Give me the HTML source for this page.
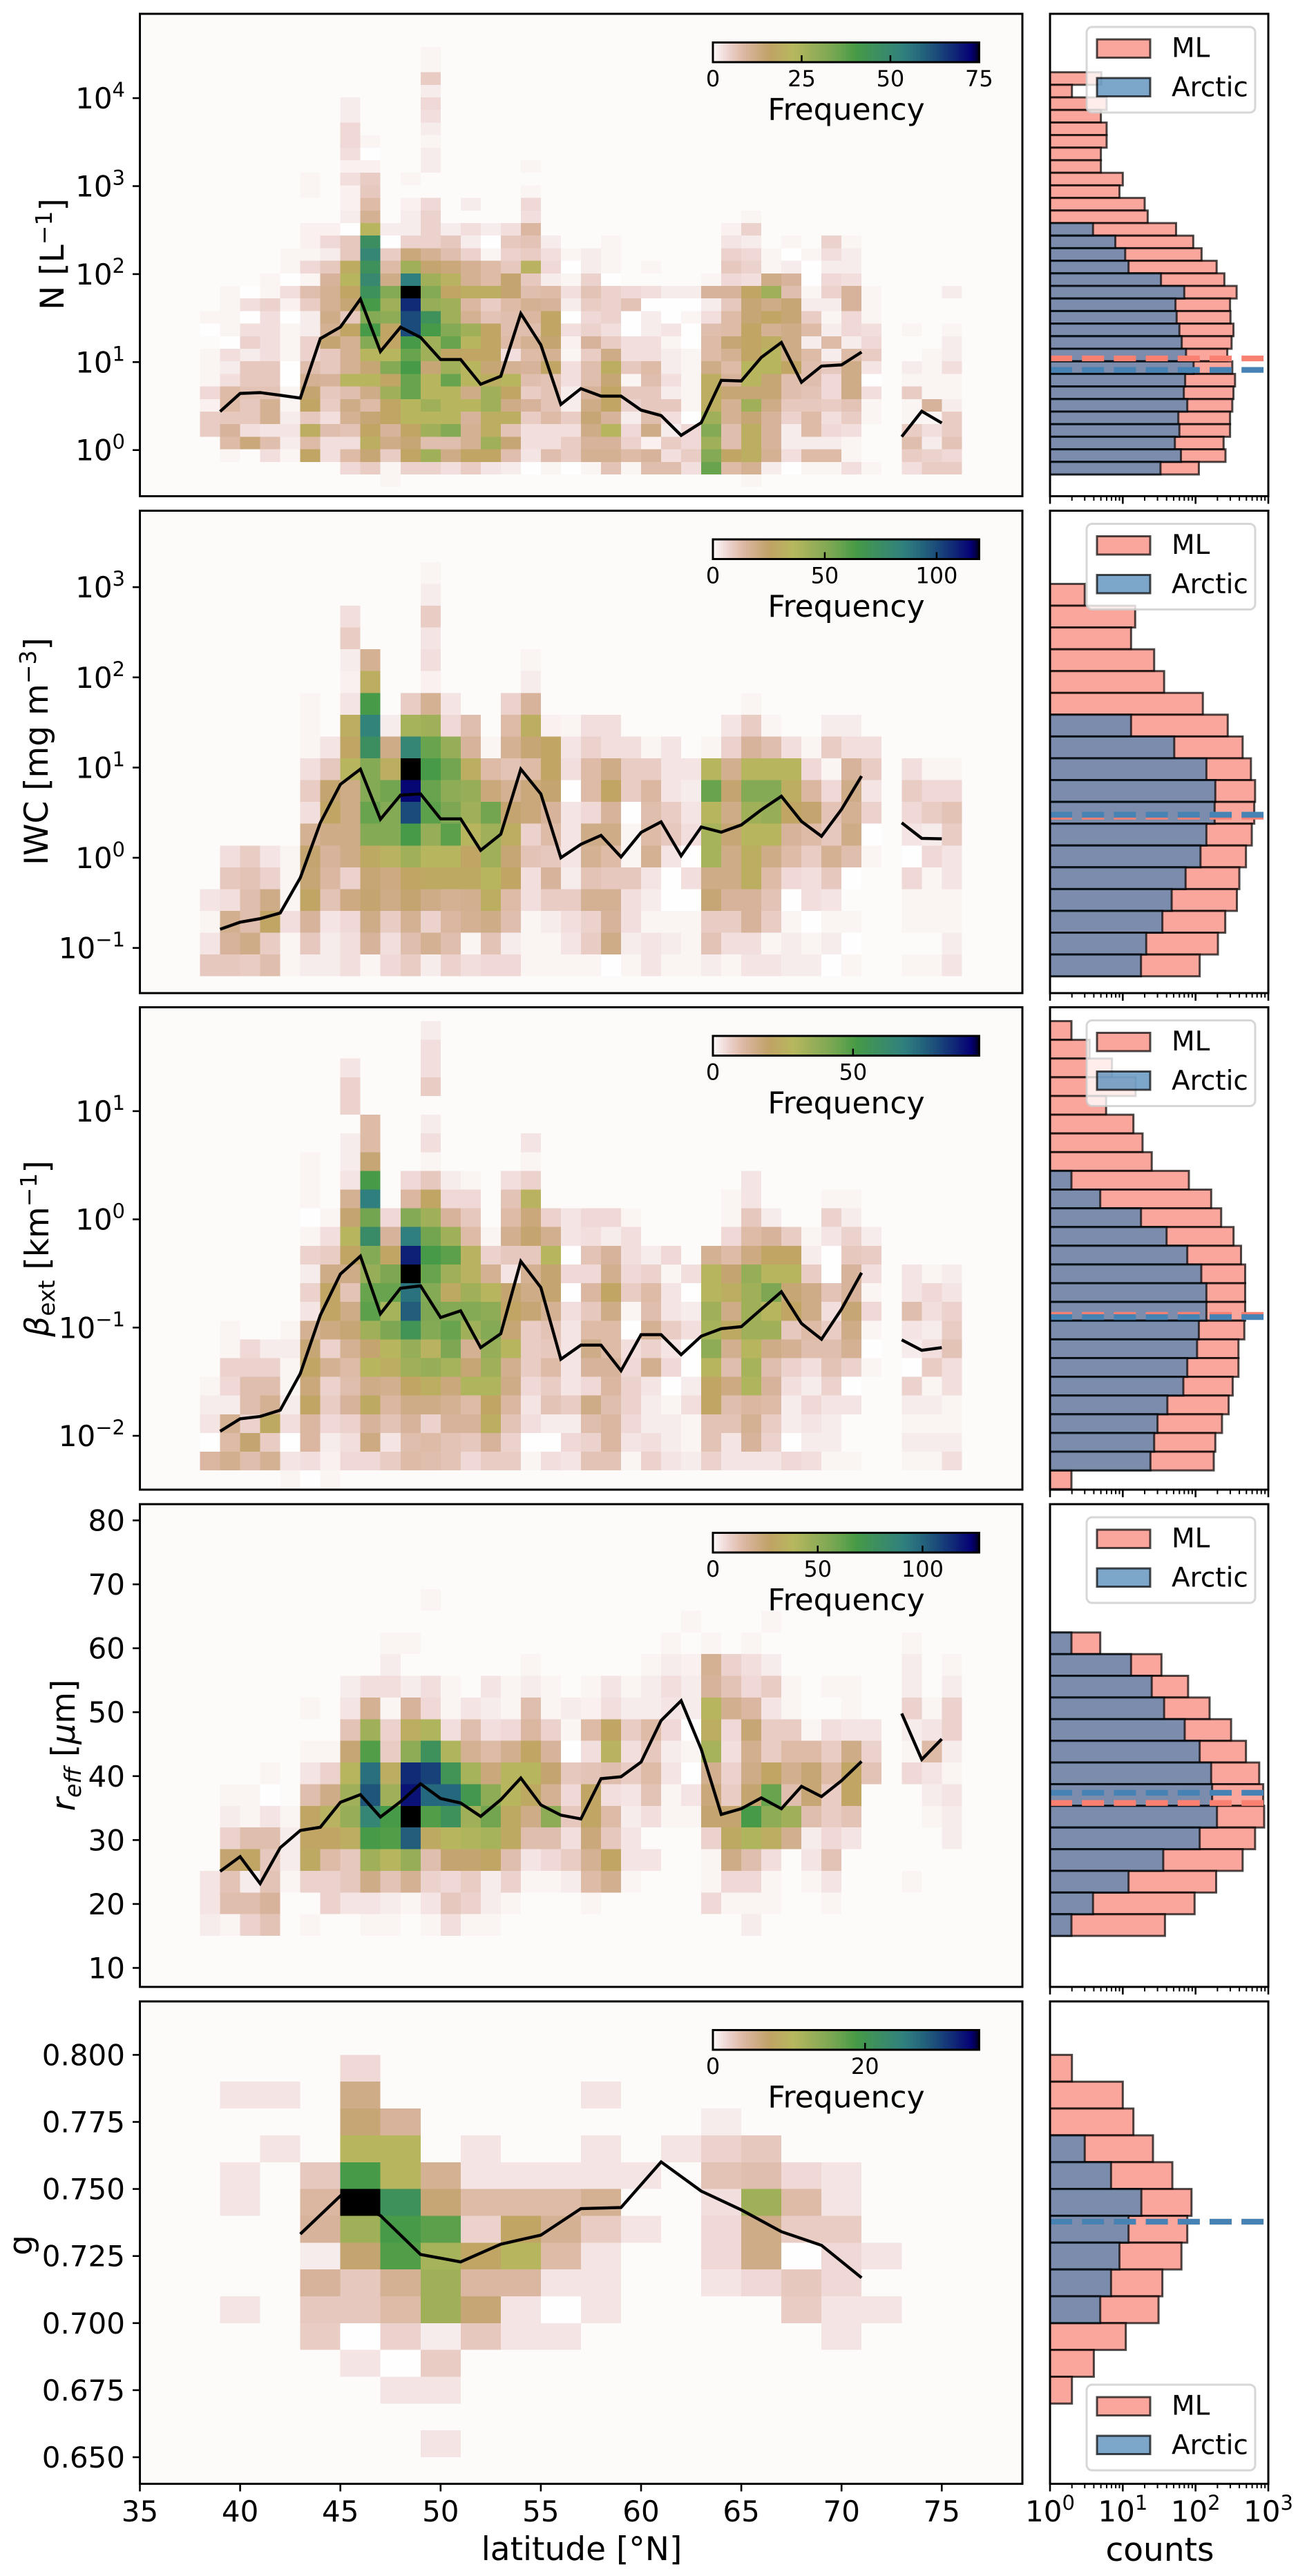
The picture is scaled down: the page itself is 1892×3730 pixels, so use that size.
<!DOCTYPE html>
<html lang="en">
<head>
<meta charset="utf-8">
<title>Latitude distributions</title>
<style>
html,body{margin:0;padding:0;background:#fff;}
svg{display:block;font-family:"DejaVu Sans","Liberation Sans",sans-serif;}
text{fill:#000;}
.ylab,.xlab{font-size:47px;}
.leg{font-size:39px;}
.frame{fill:none;stroke:#000;stroke-width:3;}
.legbox{fill:rgba(255,255,255,.8);stroke:rgba(204,204,204,.8);stroke-width:3;}
.ml{fill:rgba(250,128,114,.7);stroke:rgba(0,0,0,.7);stroke-width:3;}
.ar{fill:rgba(70,130,180,.7);stroke:rgba(0,0,0,.7);stroke-width:3;}
</style>
</head>
<body>
<svg id="fig" xmlns="http://www.w3.org/2000/svg" width="1892" height="3730" viewBox="0 0 1892 3730">
<rect width="1892" height="3730" fill="#fff"/>

<g>
<g id="heat-0"></g>
<g id="line-0"></g>
<g id="cbar-0"></g>
<rect class="frame" x="202.5" y="20" width="1277.5" height="698.5"/>
<g id="yaxis-0"></g>
<text class="ylab" transform="translate(92,368) rotate(-90)" text-anchor="middle">N [L<tspan dy="-17" font-size="33">−1</tspan><tspan dy="17">]</tspan></text>
<g id="hist-0"></g>
<g>
<rect class="legbox" x="1573" y="39" width="244" height="124" rx="8"/>
<rect class="ml" x="1588" y="57" width="77" height="26.5"/>
<text class="leg" x="1696" y="82.5">ML</text>
<rect class="ar" x="1588" y="113" width="77" height="26.5"/>
<text class="leg" x="1696" y="139.5">Arctic</text>
</g>
<rect class="frame" x="1520" y="20" width="316" height="698.5"/>
<g id="xaxis-0"></g>
</g>

<g>
<g id="heat-1"></g>
<g id="line-1"></g>
<g id="cbar-1"></g>
<rect class="frame" x="202.5" y="739.5" width="1277.5" height="698.5"/>
<g id="yaxis-1"></g>
<text class="ylab" transform="translate(69,1088) rotate(-90)" text-anchor="middle">IWC [mg m<tspan dy="-17" font-size="33">−3</tspan><tspan dy="17">]</tspan></text>
<g id="hist-1"></g>
<g>
<rect class="legbox" x="1573" y="758.5" width="244" height="124" rx="8"/>
<rect class="ml" x="1588" y="776.5" width="77" height="26.5"/>
<text class="leg" x="1696" y="802">ML</text>
<rect class="ar" x="1588" y="832.5" width="77" height="26.5"/>
<text class="leg" x="1696" y="859">Arctic</text>
</g>
<rect class="frame" x="1520" y="739.5" width="316" height="698.5"/>
<g id="xaxis-1"></g>
</g>

<g>
<g id="heat-2"></g>
<g id="line-2"></g>
<g id="cbar-2"></g>
<rect class="frame" x="202.5" y="1458.5" width="1277.5" height="698.5"/>
<g id="yaxis-2"></g>
<text class="ylab" transform="translate(70,1808) rotate(-90)" text-anchor="middle"><tspan font-style="italic">β</tspan><tspan dy="9" font-size="33">ext</tspan><tspan dy="-9"> [km</tspan><tspan dy="-17" font-size="33">−1</tspan><tspan dy="17">]</tspan></text>
<g id="hist-2"></g>
<g>
<rect class="legbox" x="1573" y="1477.5" width="244" height="124" rx="8"/>
<rect class="ml" x="1588" y="1495.5" width="77" height="26.5"/>
<text class="leg" x="1696" y="1521">ML</text>
<rect class="ar" x="1588" y="1551.5" width="77" height="26.5"/>
<text class="leg" x="1696" y="1578">Arctic</text>
</g>
<rect class="frame" x="1520" y="1458.5" width="316" height="698.5"/>
<g id="xaxis-2"></g>
</g>

<g>
<g id="heat-3"></g>
<g id="line-3"></g>
<g id="cbar-3"></g>
<rect class="frame" x="202.5" y="2178" width="1277.5" height="699"/>
<g id="yaxis-3"></g>
<text class="ylab" transform="translate(108,2527) rotate(-90)" text-anchor="middle"><tspan font-style="italic">r</tspan><tspan dy="9" font-size="33" font-style="italic">eff</tspan><tspan dy="-9"> [</tspan><tspan font-style="italic">μ</tspan>m]</text>
<g id="hist-3"></g>
<g>
<rect class="legbox" x="1573" y="2197" width="244" height="124" rx="8"/>
<rect class="ml" x="1588" y="2215" width="77" height="26.5"/>
<text class="leg" x="1696" y="2240.5">ML</text>
<rect class="ar" x="1588" y="2271" width="77" height="26.5"/>
<text class="leg" x="1696" y="2297.5">Arctic</text>
</g>
<rect class="frame" x="1520" y="2178" width="316" height="699"/>
<g id="xaxis-3"></g>
</g>

<g>
<g id="heat-4"></g>
<g id="line-4"></g>
<g id="cbar-4"></g>
<rect class="frame" x="202.5" y="2898" width="1277.5" height="698.5"/>
<g id="yaxis-4"></g>
<text class="ylab" transform="translate(46,3251) rotate(-90)" text-anchor="middle">g</text>
<g id="hist-4"></g>
<g>
<rect class="legbox" x="1573" y="3453" width="244" height="124" rx="8"/>
<rect class="ml" x="1588" y="3471" width="77" height="26.5"/>
<text class="leg" x="1696" y="3496.5">ML</text>
<rect class="ar" x="1588" y="3527" width="77" height="26.5"/>
<text class="leg" x="1696" y="3553.5">Arctic</text>
</g>
<rect class="frame" x="1520" y="2898" width="316" height="698.5"/>
<g id="xaxis-4"></g>
<g id="latitude-axis"></g>
<text class="xlab" x="842" y="3707" text-anchor="middle">latitude [°N]</text>
<text class="xlab" x="1679" y="3708" text-anchor="middle">counts</text>
</g>
</svg>

<script>
/* Heatmap values are read from cell colour, as percent of each panel's colour-bar maximum.
   Each row runs top to bottom; *Start gives the latitude of the first value in that row. */
const latTicks = [35,40,45,50,55,60,65,70,75];
const countDecades = [0,1,2,3];

const nStart = [49,49,49,49,45,45,45,45,45,45,43,43,45,45,43,43,42,42,41,39,39,38,38,39,38,38,38,38,38,38,38,39,39,45,47];
const nFreq = [
[1],[1],[7],[2],
[2,0,0,0,5],[2,0,0,0,4],[5,0,0,0,2],[5,1,0,0,1],[4,.5,0,0,2],
[1.5,1.5,0,0,2,0,0,0,0,1],
[1,0,4,7,0,1],
[1,0,1.5,8,0,0,0,0,0,0,0,1],
[1.5,11,0,1.5,5,0,2,0,0,5],
[2,14,0,2,6,0,0,0,0,4,0,0,0,0,0,0,0,0,0,0,1],
[1.5,1.5,.5,30,2,2,6,2,4,2,4,12,0,0,0,0,0,0,0,0,0,1.5,6],
[1.5,5,8,62,.5,6,6,8,2,.5,8,9,2,0,0,1,0,0,0,0,0,3,2,0,1,0,6,1],
[1,1,2,8,68,7,18,14,10,6,1,6,7,4,1,2,1,0,0,0,0,0,6,5,1,.5,1,4,2],
[1,5,8,25,60,11,36,20,18,14,11,8,28,5,.5,2,1,0,1,0,0,0,8,6,1,2,.5,2,2],
[1,.5,1,13,30,66,16,72,36,28,14,11,20,8,2,1,6,.5,0,0,0,0,1,5,4,16,13,.5,5,4],
[1,.5,1,4,10,14,22,60,42,100,42,22,26,26,20,10,11,4,9,6,5,4,2,2,13,13,22,36,10,1,6,13,1,0,0,0,2],
[1,4,6,1.5,7,14,19,54,36,90,38,36,12,7,11,14,13,2,7,6,9,.5,.5,.5,2,8,19,16,19,2,2,13,1],
[1,1,.5,4,.5,2,16,8,42,40,84,60,36,14,9,10,12,22,.5,5,6,.5,2,.5,1,4,11,19,22,19,7,1,5,1],
[.5,1,4,4,1,2,14,22,54,22,84,54,42,36,22,10,10,22,4,6,4,.5,2,3,.5,10,11,22,14,16,11,2,5,4,0,1,0,1],
[.5,6,4,1,6,20,14,42,22,54,36,48,30,22,11,14,20,1.5,13,7,4,4,1,.5,11,19,22,26,16,2,11,2,5,0,0,0,2],
[1,4,2,4,1,6,8,14,30,30,48,36,22,22,22,4,11,14,1,7,16,4,4,2,1,11,14,22,30,16,11,2,11,7,0,0,1,2],
[1,2,8,8,.5,10,8,14,19,42,54,19,36,30,19,14,13,22,4,10,26,8,11,2,1,16,11,30,30,22,10,8,16,3,0,2,1,4],
[1,4,8,8,.5,14,13,30,30,22,48,30,48,30,26,30,10,9,4,10,19,1,10,4,1,26,13,30,19,10,10,5,16,.5,0,1,1,1],
[5,11,9,9,1,20,8,10,16,36,48,30,30,16,36,22,7,9,2,13,22,8,8,2,1,26,19,19,19,10,9,5,16,4,0,7,1,1],
[1.5,11,8,14,1,22,7,16,11,22,30,36,30,30,36,16,13,9,2,16,22,6,8,8,1,26,14,36,16,8,8,7,9,1,0,1,13,2],
[7,8,8,14,2,8,4,14,19,22,30,30,30,13,26,26,7,11,7,19,13,2,10,4,.5,36,14,19,13,6,11,4,7,1,0,1,1,7],
[7,13,4,3,3,26,10,9,22,13,22,36,42,14,26,9,4,4,4,16,30,5,16,2,5,42,10,26,13,2,11,5,4,0,0,7,4,7],
[11,18,10,2,11,4,4,26,16,19,10,10,14,36,19,4,4,7,13,13,6,1.5,7,5,36,10,26,13,2,2,2,1,0,0,10,2,9],
[1,0,4,1,22,4,11,19,7,22,36,16,22,22,10,3,10,7,14,14,11,13,4,7,42,22,26,14,4,11,11,1,0,0,7,6,5],
[5,7,1,6,6,4,7,3,2,.5,1,.5,1,9,1,10,10,4,48,11,14,2,.5,1,1,4,1,0,4,7,7],
[1,0,0,0,0,0,0,0,0,0,0,0,0,0,0,0,0,0,1]
];
const nMedian = [2.74,4.4,4.5,4.2,3.9,18.5,25,52,13.2,24.9,19.1,10.7,10.7,5.6,6.9,35.6,15.7,3.3,5.0,4.1,4.1,2.85,2.47,1.47,2.05,6.2,6.1,11.3,16.7,5.9,9.0,9.3,13.0,null,1.42,2.76,2.03];
const nMl = [1,1,5.07,2,6,5,6,6,5,5,10,9,20,22,54,93,121,195,249,367,298,302,332,313,273,320,349,332,320,298,298,243,258,111,1];
const nArctic = [0,0,0,0,0,0,0,0,0,0,0,0,0,0,3.9,7.9,10.8,12,33.5,70,53,55,60,64.6,74,94,72,69,77,58,60,52,63,33,0];
const nMeans = [11,8.15];
const nTicks = [4,3,2,1,0];
const nCbarTicks = [0,25,50,75];

const iwcStart = [49,49,45,45,45,45,43,43,43,43,43,43,43,39,39,38,38,38,38];
const iwcFreq = [
[1],[2],[4,0,0,0,7],[7,0,0,0,3],
[2,14,0,0,4,0,0,0,0,1],
[1.5,26,0,0,1.5,0,0,0,0,2],
[1,0,3,54,0,7,14,3,0,0,6,13,0,0,0,0,0,0,0,0,0,0,1],
[1,0,26,70,2,34,36,5,10,0,11,26,1.5,1,4,4,0,0,0,0,0,3,7,1,0,0,2,2],
[1,3,22,62,16,68,48,38,13,1,14,19,22,3,6,4,4,1,3,0,1,6,13,10,4,1,7,4,4],
[4,8,30,42,26,100,54,46,26,11,9,11,22,4,11,16,7,7,3,3,30,15,30,30,30,5,1,13,7,0,4,1,1],
[7,20,16,42,46,96,48,40,38,18,14,18,20,.5,11,22,7,12,3,2,48,20,42,42,26,12,5,16,3,0,7,5,5],
[4,22,16,48,42,84,50,44,36,46,20,18,13,3,5,13,.5,10,7,3,30,16,36,38,22,20,9,14,6,0,5,7,9],
[14,16,16,42,42,54,38,50,30,36,26,6,11,3,16,16,1,11,8,4,34,19,30,30,13,11,8,16,.5,0,3,2,7],
[4,7,3,1,20,13,16,24,28,36,30,30,22,36,19,9,8,3,14,11,1,14,3,.5,34,16,26,16,11,7,14,10,1,0,.5,5,3],
[8,9,6,1,19,12,6,19,17,22,24,24,24,30,22,4,13,2,9,8,8,3,.5,4,16,16,26,11,5,4,8,.5,0,0,5,1,3],
[3,4,10,16,1,22,9,17,20,16,20,16,14,15,26,11,4,7,7,14,14,4,2,.5,.5,19,13,13,9,.5,4,3,0,0,0,1,1,1],
[1,15,10,22,4,13,3,5,16,7,14,6,12,14,16,10,1,2,4,6,13,4,1,1,1,7,7,13,7,1,.5,1,1,0,0,1,1,1],
[3,13,16,7,1,8,2,4,13,4,10,14,10,1,9,2,1,1,3,7,16,2,3,2,1,9,4,4,1,2,1,2,.5,0,0,0,0,2],
[8,8,7,10,1,2,2,4,1,5,7,2,6,4,5,5,1,1,1,1,.5,1,3,1,1,2,1,3,3,2,2,.5,1,0,0,1,1,3]
];
const iwcMedian = [.161,.193,.211,.244,.60,2.44,6.5,9.6,2.67,4.95,5.1,2.7,2.7,1.21,1.82,9.6,5.1,1.0,1.41,1.77,1.02,1.91,2.5,1.05,2.19,1.92,2.31,3.4,4.8,2.53,1.73,3.44,8.05,null,2.44,1.64,1.62];
const iwcMl = [1,3,14.8,13,27,37,126,277,444,577,658,641,593,493,400,370,256,203,114];
const iwcArctic = [0,0,0,0,0,0,0,13,51,141,187,183,141,117,73,47,35,21,17.8];
const iwcMeans = [2.85,3.0];
const iwcTicks = [3,2,1,0,-1];
const iwcCbarTicks = [0,50,100];

const betaStart = [49,49,45,45,45,46,45,43,43,43,43,43,43,43,43,43,39,39,39,38,38,38,38,38,42];
const betaFreq = [
[2],[4],[3,0,0,0,4],[6,0,0,0,7],[6],[11,0,0,2],
[2,11,0,0,4,0,0,0,0,3],
[1,0,2,19,0,0,1,0,0,0,0,1],
[1,0,3,54,0,5,8,2,1,0,4,6,0,0,0,0,0,0,0,0,0,0,3],
[1,0,14,72,0,12,22,5,5,0,9,28,0,0,0,0,0,0,0,0,0,1,3,0,0,0,1,1],
[.5,1,20,46,5,42,36,13,8,0,11,18,6,3,5,5,1,0,0,0,0,1,8,2,0,0,6,2],
[1,4,30,64,13,72,46,36,11,1,15,20,15,3,4,2,4,0,0,0,0,5,11,13,7,1,3,6,2],
[6,7,22,42,22,92,54,50,28,6,8,8,30,.5,9,13,4,2,5,0,14,11,17,22,22,2,.5,8,7],
[2,16,16,38,44,100,48,36,28,14,3,14,20,5,5,15,5,6,1,4,30,20,38,30,30,7,.5,13,4,0,3,1,2],
[6,22,9,48,48,75,42,24,36,30,20,16,20,.5,12,22,7,11,3,.5,30,26,36,44,19,16,9,13,1,0,3,5,3],
[3,22,16,50,34,80,44,42,42,40,22,19,14,4,8,16,1,10,3,2,36,16,36,30,22,16,4,19,5,0,10,4,6],
[1,0,0,1,14,17,19,36,44,58,42,48,36,42,19,7,9,3,11,11,.5,14,7,4,34,24,36,36,8,11,7,16,1,0,3,2,7],
[1,5,2,2,19,6,14,20,30,38,28,44,14,38,30,7,8,3,16,11,4,6,3,.5,40,15,30,16,14,10,10,14,.5,0,2,4,9],
[6,6,6,1,22,14,11,30,26,36,38,34,19,36,15,7,11,3,13,13,5,15,5,.5,30,10,34,10,6,4,9,6,1,0,.5,7,4],
[1,5,10,10,1,18,6,10,16,15,22,26,18,32,32,16,5,7,3,5,12,6,3,.5,2,22,17,32,13,4,2,6,.5,0,0,6,1,4],
[2,2,10,14,2,22,7,13,24,12,16,16,14,11,22,12,3,9,7,16,10,6,2,1,4,22,10,12,11,2,5,3,3,0,0,2,2,1],
[3,14,6,24,4,12,5,6,13,9,13,6,13,13,26,9,4,2,2,10,12,5,2,2,1,9,9,14,7,2,3,2,0,0,0,1,1,1],
[.5,11,20,7,.5,12,2,4,17,3,10,11,9,8,13,6,.5,.5,5,6,12,3,4,2,1,9,3,13,6,.5,2,2,0,0,0,2,2,2],
[12,15,10,14,3,4,1.5,5,5,7,11,10,9,5,7,7,1,4,3,9,9,1,6,3,2,6,3,3,3,5,4,1,1,0,0,1,1,4],
[1,.5,1]
];
const betaMedian = [.011,.01436,.0151,.01725,.0376,.130,.312,.457,.134,.231,.243,.124,.143,.0653,.0877,.41,.235,.051,.0688,.0688,.04,.086,.086,.0561,.0832,.0977,.102,.148,.214,.109,.078,.148,.321,null,.077,.0617,.0653];
const betaMl = [1.97,3.5,7.1,15,5.9,14,18.7,25,81,164,225,333,422,481,481,481,468,389,389,324,285,231,187,178,1.97];
const betaArctic = [0,0,0,0,0,0,0,0,1.97,4.9,17.8,40,77,120,141,141,111,105,77,68,41,30,27,24,0];
const betaMeans = [.131,.125];
const betaTicks = [1,0,-1,-2];
const betaCbarTicks = [0,50];

const reffStart = [49,62,47,47,45,43,45,43,41,39,39,39,39,38,38,38];
const reffFreq = [
[1],
[1,0,0,0,1],
[1,1,0,0,0,0,0,0,0,0,0,0,0,0,1,0,1,0,1,0,0,0,0,0,0,0,1],
[2,0,0,0,0,0,0,1,0,0,0,0,0,1,2,1.5,14,6,4,2,0,0,0,0,0,0,2,0,1],
[2,4,4,2,4,1,0,3,1,2,1,0,1,3,1,2,4,2,13,9,5,7,1,0,1,1,0,0,2,0,2],
[1,0,3,14,1,13,5,1,3,2,1,10,1,2,1.5,4,2,2,3,2,30,15,12,3,1,0,0,1,0,0,6,1,6],
[9,36,6,26,32,4,10,4,5,12,6,1,11,22,7,11,5,.5,26,5,19,7,7,1,4,3,3,0,2,3,6],
[1,1,19,52,7,40,60,32,14,11,15,22,13,.5,4,28,4,8,2,1,34,4,15,7,11,11,7,16,6,0,1,11,2],
[1,0,3,6,30,76,26,90,86,58,34,18,30,30,20,8,9,10,7,11,3,.5,15,6,16,22,15,19,11,22,9,0,5,3,1],
[1,1,.5,0,10,16,36,82,36,94,78,78,56,40,30,24,14,5,22,4,3,9,1,3,18,7,20,48,10,19,7,22,0,0,0,2,3],
[2,1,3,1,22,28,38,68,54,100,52,60,36,46,24,16,40,8,22,11,2,4,1,1,20,20,54,40,36,10,7,9,0,0,0,1,2],
[6,10,10,2,22,22,26,54,52,80,24,30,32,34,24,10,10,4,18,8,3,0,0,0,6,24,32,26,15,2,5,3,0,0,0,0,2],
[20,22,8,2,24,11,8,36,30,38,10,20,20,22,10,3,5,7,14,22,3,3,0,0,1,16,10,4,0,3,9],
[3,9,2,9,1,6,6,8,16,9,14,6,5,7,2,6,1,1,2,11,15,1,0,0,0,1,5,5,1,0,1,3,0,0,0,1],
[3,10,10,13,0,0,6,3,3,2,1,3,8,6,2,1,0,0,0,1,0,0,0,0,0,5,1,1,1,0,0,1],
[2,1,6,9,0,1,0,0,1,1,0,1,4,1,1,0,0,0,0,0,0,0,0,0,0,0,0,2]
];
const reffMedian = [25.1,27.4,23.2,28.8,31.5,32,35.9,37.1,33.6,36,38.8,36.5,35.8,33.7,36.3,39.7,35.5,33.9,33.3,39.6,39.9,42.2,48.7,51.8,44.2,34,34.9,36.6,34.9,38.4,36.8,39.3,42.3,null,49.8,42.6,45.8];
const reffMl = [1,1,4.9,34,79,156,308,493,750,851,877,658,444,192,97,38];
const reffArctic = [0,0,1.97,13,25,37,71,114,164,169,197,114,36,12,3.9,1.97];
const reffMeans = [35.8,37.4];
const reffTicks = [80,70,60,50,40,30,20,10];
const reffCbarTicks = [0,50,100];

const gStart = [39,39,39,39,39,39,39,39,39,39,39,39,39,39,39];
const gFreq = [
[0,0,0,5],
[3,3,0,16,0,0,0,0,0,3],
[0,0,0,19,13,0,0,0,0,0,0,0,2],
[0,3,0,30,30,0,3,0,0,3,0,3,6,8],
[3,0,8,54,30,14,3,3,3,3,3,0,9,10,5,3],
[3,0,12,100,60,19,11,11,11,14,0,0,4,36,11,3],
[0,0,13,36,54,50,6,22,14,7,3,0,5,16,7,7],
[0,0,2,20,52,34,22,30,11,3,0,0,5,16,.5,5,3],
[0,0,13,8,14,36,12,12,3,3,0,0,3,5,8,5],
[3,0,8,8,11,36,19,3,.5,3,0,0,0,0,7,3,3],
[0,0,7,.5,6,2,8,3,3,0,0,0,0,0,0,3],
[0,0,0,3,.5,7],
[0,0,0,0,3,3],
[],
[0,0,0,0,0,3]
];
const gMedian = [.7332,.7474,.7401,.7256,.7228,.7294,.7328,.7427,.7431,.7601,.7492,.7422,.7341,.7290,.7169];
const gMl = [2,10,14,26,48,88,77,64,35,31,11,4,2,0,0];
const gArctic = [0,0,0,3,6.9,18,12,9,6.9,4.9,0,0,0,0,0];
const gMeans = [.7378,.7378];
const gTicks = [.8,.775,.75,.725,.7,.675,.65];
const gCbarTicks = [0,20];

/* matplotlib gist_earth segment data */
const earthR = [[0,0],[.2824,.1882],[.4588,.2714],[.5490,.4719],[.6980,.7176],[.7882,.7553],[1,.9922]];
const earthG = [[0,0],[.0275,0],[.1098,.1893],[.1647,.3035],[.2078,.3841],[.2824,.5020],[.5216,.6397],[.6980,.7171],[.7882,.6392],[.8157,.6549],[.8667,.6991],[.8980,.7430],[.9412,.8275],[.9647,.8816],[.9961,.9733],[1,.9843]];
const earthB = [[0,0],[.0039,.1684],[.0078,.2212],[.0275,.4329],[.0314,.4549],[.2824,.5004],[.4667,.2748],[.5451,.3205],[.7843,.3961],[.8941,.6651],[1,.9843]];
function seg(tab,x){
  for(let i=1;i<tab.length;i++){
    if(x<=tab[i][0]){
      const a=tab[i-1],b=tab[i];
      return a[1]+(b[1]-a[1])*(x-a[0])/(b[0]-a[0]);
    }
  }
  return tab[tab.length-1][1];
}
function earthR_(t){
  const x=1-Math.max(0,Math.min(1,t));
  return 'rgb('+Math.round(seg(earthR,x)*255)+','+Math.round(seg(earthG,x)*255)+','+Math.round(seg(earthB,x)*255)+')';
}

const NS='http://www.w3.org/2000/svg';
function el(tag,attrs,parent){
  const e=document.createElementNS(NS,tag);
  for(const k in attrs){e.setAttribute(k,attrs[k]);}
  parent.appendChild(e);
  return e;
}
const xLat=v=>202.5+(v-35)*29.02;
const xCount=v=>1520+Math.log10(v)*105.33;
const MAIN_LEFT=202.5, HIST_LEFT=1520;

const panels=[
 {key:'n',top:20,bottom:718.5,start:nStart,freq:nFreq,latBase:38,latW:1,binTop:4.58,binStep:1/7,log:true,ref:651.7,ppu:127.4,
  medLat0:39,medStep:1,median:nMedian,ml:nMl,arctic:nArctic,means:nMeans,ticks:nTicks,vmax:75,cbarTicks:nCbarTicks},
 {key:'iwc',top:739.5,bottom:1438,start:iwcStart,freq:iwcFreq,latBase:38,latW:1,binTop:3.278,binStep:.2417,log:true,ref:1242,ppu:130.6,
  medLat0:39,medStep:1,median:iwcMedian,ml:iwcMl,arctic:iwcArctic,means:iwcMeans,ticks:iwcTicks,vmax:119,cbarTicks:iwcCbarTicks},
 {key:'beta',top:1458.5,bottom:2157,start:betaStart,freq:betaFreq,latBase:38,latW:1,binTop:1.832,binStep:.173,log:true,ref:1765.6,ppu:156.7,
  medLat0:39,medStep:1,median:betaMedian,ml:betaMl,arctic:betaArctic,means:betaMeans,ticks:betaTicks,vmax:95,cbarTicks:betaCbarTicks},
 {key:'reff',top:2178,bottom:2877,start:reffStart,freq:reffFreq,latBase:38,latW:1,binTop:69.25,binStep:3.39,log:false,ref:2849.5,refVal:10,ppu:9.257,
  medLat0:39,medStep:1,median:reffMedian,ml:reffMl,arctic:reffArctic,means:reffMeans,ticks:reffTicks,vmax:127,cbarTicks:reffCbarTicks},
 {key:'g',top:2898,bottom:3596.5,start:gStart,freq:gFreq,latBase:39,latW:2,binTop:.8,binStep:.01,log:false,ref:2975.4,refVal:.8,ppu:3884,
  medLat0:43,medStep:2,median:gMedian,ml:gMl,arctic:gArctic,means:gMeans,ticks:gTicks,vmax:35,cbarTicks:gCbarTicks}
];

panels.forEach(function(p,idx){
  const k=p.key;
  const yVal=p.log
    ? (v=>p.ref-Math.log10(v)*p.ppu)
    : (v=>p.ref-(v-p.refVal)*p.ppu);
  const yEdge=p.log
    ? (row=>p.ref-(p.binTop-row*p.binStep)*p.ppu)
    : (row=>p.ref-((p.binTop-row*p.binStep)-p.refVal)*p.ppu);

  /* heatmap */
  const heat=document.getElementById('heat-'+idx);
  const bg=el('rect',{x:MAIN_LEFT,y:p.top,width:1277.5,height:p.bottom-p.top,fill:'#fcfbf9'},heat);
  
  
  p.freq.forEach(function(row,r){
    row.forEach(function(v,c){
      if(!v){return;}
      const lat=p.start[r]+c*p.latW;
      const x0=xLat(lat),x1=xLat(lat+p.latW);
      const y0=yEdge(r),y1=yEdge(r+1);
      const cell=el('rect',{x:x0,y:y0,width:x1-x0,height:y1-y0,fill:v<1?'#fefefe':earthR_(v/100),'shape-rendering':'crispEdges'},heat);
      
      
    });
  });

  /* median line */
  const lineG=document.getElementById('line-'+idx);
  let d='',pen=false;
  p.median.forEach(function(v,i){
    if(v===null){pen=false;return;}
    const lat=p.medLat0+i*p.medStep;
    d+=(pen?'L':'M')+xLat(lat).toFixed(1)+' '+yVal(v).toFixed(1);
    pen=true;
  });
  const path=el('path',{d:d,fill:'none',stroke:'#000','stroke-width':4.4,'stroke-linejoin':'miter'},lineG);
  
  

  /* colour bar */
  const cb=document.getElementById('cbar-'+idx);
  const cx0=1032,cx1=1417.4,cy0=p.top+41.5,cy1=cy0+28.5;
  const cbX=v=>cx0+(cx1-cx0)*v/p.vmax;
  const steps=128;
  for(let s=0;s<steps;s++){
    const sw=el('rect',{x:cx0+(cx1-cx0)*s/steps,y:cy0,width:(cx1-cx0)/steps+.5,height:cy1-cy0,fill:earthR_((s+.5)/steps)},cb);
    
    
  }
  const cf=el('rect',{x:cx0,y:cy0,width:cx1-cx0,height:cy1-cy0,fill:'none',stroke:'#000','stroke-width':3},cb);
  
  
  p.cbarTicks.forEach(function(v){
    if(v>0&&v<p.vmax){
      const t=el('line',{x1:cbX(v),x2:cbX(v),y1:cy1,y2:cy1-10,stroke:'#000','stroke-width':2.5},cb);
      
      
    }
    const lab=el('text',{x:cbX(v),y:p.top+105,'text-anchor':'middle','font-size':32},cb);
    lab.textContent=String(v);
    
    
  });
  const cbT=el('text',{x:1225,y:p.top+153.5,'text-anchor':'middle','font-size':44},cb);
  cbT.textContent='Frequency';
  
  

  /* y axis */
  const ya=document.getElementById('yaxis-'+idx);
  p.ticks.forEach(function(v){
    const val=p.log?Math.pow(10,v):v;
    const y=yVal(val);
    const t=el('line',{x1:MAIN_LEFT,x2:MAIN_LEFT-10.5,y1:y,y2:y,stroke:'#000','stroke-width':2.6},ya);
    
    
    const lab=el('text',{x:181,y:y+15,'text-anchor':'end','font-size':42},ya);
    
    
    if(p.log){
      lab.textContent='10';
      const sup=el('tspan',{dy:-17,'font-size':29},lab);
      sup.textContent=String(v).replace('-','−');
      
      
    }else{
      lab.textContent=k==='g'?v.toFixed(3):String(v);
    }
  });

  /* histogram */
  const hg=document.getElementById('hist-'+idx);
  function bars(arr,cls,name){
    arr.forEach(function(v,r){
      if(!v){return;}
      const y0=yEdge(r),y1=yEdge(r+1);
      const b=el('rect',{x:xCount(1),y:y0,width:xCount(v)-xCount(1),height:y1-y0,'class':cls},hg);
      
      
    });
  }
  bars(p.ml,'ml',k+'-ml-bar');
  bars(p.arctic,'ar',k+'-arctic-bar');
  const mlMean=el('line',{x1:xCount(1),x2:xCount(860),y1:yVal(p.means[0]),y2:yVal(p.means[0]),stroke:'#fa8072','stroke-width':8.3,'stroke-dasharray':'32 14.2'},hg);
  
  
  const arMean=el('line',{x1:xCount(1),x2:xCount(860),y1:yVal(p.means[1]),y2:yVal(p.means[1]),stroke:'#4682b4','stroke-width':8.3,'stroke-dasharray':'32 14.2'},hg);
  
  

  /* counts axis */
  const xa=document.getElementById('xaxis-'+idx);
  countDecades.forEach(function(dec){
    const x=xCount(Math.pow(10,dec));
    const t=el('line',{x1:x,x2:x,y1:p.bottom,y2:p.bottom+11,stroke:'#000','stroke-width':2.6},xa);
    
    
    if(dec<3){
      for(let m=2;m<10;m++){
        const xm=xCount(m*Math.pow(10,dec));
        const tm=el('line',{x1:xm,x2:xm,y1:p.bottom,y2:p.bottom+6.5,stroke:'#000','stroke-width':2},xa);
        
        
      }
    }
    if(idx===4){
      const lab=el('text',{x:x,y:3651,'text-anchor':'middle','font-size':42},xa);
      lab.textContent='10';
      
      
      const sup=el('tspan',{dy:-17,'font-size':29},lab);
      sup.textContent=String(dec);
      
      
    }
  });
});

/* latitude axis */
const latAxis=document.getElementById('latitude-axis');
latTicks.forEach(function(v){
  const x=xLat(v);
  const t=el('line',{x1:x,x2:x,y1:3596.5,y2:3607.5,stroke:'#000','stroke-width':2.6},latAxis);
  
  
  const lab=el('text',{x:x,y:3651,'text-anchor':'middle','font-size':42},latAxis);
  lab.textContent=String(v);
  
  
});
</script>
</body>
</html>
